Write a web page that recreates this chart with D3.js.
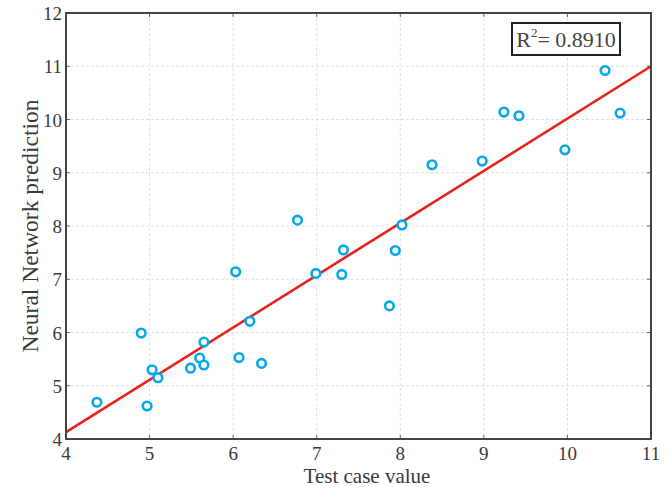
<!DOCTYPE html>
<html>
<head>
<meta charset="utf-8" />
<script src="https://cdn.jsdelivr.net/npm/d3@7"></script>
<style>
  body { margin: 0; background: #fff; }
  svg { display: block; font-family: 'Liberation Serif', serif; }
  .grid line { stroke: #e0e0e0; stroke-dasharray: 3,2; stroke-width: 1; }
  .tick-label { fill: #3a3a3a; font-size: 19px; }
</style>
</head>
<body>
<svg id="chart"></svg>
<script>
// measured (x) vs predicted (y)
const testValues = [4.37, 4.97, 4.90, 5.03, 5.10, 5.49, 5.60, 5.65, 5.65, 6.07, 6.20, 6.34, 6.03, 6.77,
  6.99, 7.30, 7.32, 7.87, 7.94, 8.02, 8.38, 8.98, 9.24, 9.42, 9.97, 10.45, 10.63];
const predictions = [4.69, 4.62, 5.99, 5.30, 5.15, 5.33, 5.52, 5.39, 5.82, 5.53, 6.21, 5.42, 7.14, 8.11,
  7.11, 7.09, 7.55, 6.50, 7.54, 8.02, 9.15, 9.22, 10.14, 10.07, 9.43, 10.92, 10.12];
const fitX = [4, 11];
const fitY = [4.13, 11.0];
const xTicks = [4, 5, 6, 7, 8, 9, 10, 11];
const yTicks = [4, 5, 6, 7, 8, 9, 10, 11, 12];
const r2Text = '0.8910';

const width = 668, height = 487;
const m = { left: 66, right: 651, top: 13, bottom: 439 };

const svg = d3.select('#chart').attr('width', width).attr('height', height);

const x = d3.scaleLinear().domain([4, 11]).range([m.left, m.right]);
const y = d3.scaleLinear().domain([4, 12]).range([m.bottom, m.top]);

// grid
const grid = svg.append('g').attr('class', 'grid');
grid.selectAll('.gx').data(xTicks.slice(1, -1)).enter().append('line')
  .attr('x1', d => x(d)).attr('x2', d => x(d)).attr('y1', m.top).attr('y2', m.bottom);
grid.selectAll('.gy').data(yTicks.slice(1, -1)).enter().append('line')
  .attr('y1', d => y(d)).attr('y2', d => y(d)).attr('x1', m.left).attr('x2', m.right);

// inward ticks
const ticks = svg.append('g').attr('stroke', '#666').attr('stroke-width', 1);
xTicks.forEach(t => {
  ticks.append('line').attr('x1', x(t)).attr('x2', x(t)).attr('y1', m.bottom).attr('y2', m.bottom - 4);
  ticks.append('line').attr('x1', x(t)).attr('x2', x(t)).attr('y1', m.top).attr('y2', m.top + 4);
});
yTicks.forEach(t => {
  ticks.append('line').attr('y1', y(t)).attr('y2', y(t)).attr('x1', m.left).attr('x2', m.left + 4);
  ticks.append('line').attr('y1', y(t)).attr('y2', y(t)).attr('x1', m.right).attr('x2', m.right - 4);
});

// tick labels
svg.selectAll('.xl').data(xTicks).enter().append('text')
  .attr('class', 'tick-label')
  .attr('x', d => x(d)).attr('y', m.bottom + 21)
  .attr('text-anchor', 'middle').text(d => d);
svg.selectAll('.yl').data(yTicks).enter().append('text')
  .attr('class', 'tick-label')
  .attr('x', m.left - 4).attr('y', d => y(d) + 7)
  .attr('text-anchor', 'end').text(d => d);

// fit line
const line = d3.line().x(d => x(d[0])).y(d => y(d[1]));
svg.append('path')
  .datum(d3.zip(fitX, fitY))
  .attr('d', line)
  .attr('fill', 'none')
  .attr('stroke', '#e8221b')
  .attr('stroke-width', 2.6);

// points
svg.selectAll('.pt').data(d3.zip(testValues, predictions)).enter().append('circle')
  .attr('cx', d => x(d[0])).attr('cy', d => y(d[1]))
  .attr('r', 4.3)
  .attr('fill', '#fff')
  .attr('stroke', '#08a8e8')
  .attr('stroke-width', 2.6);

// frame
svg.append('rect')
  .attr('x', m.left).attr('y', m.top)
  .attr('width', m.right - m.left).attr('height', m.bottom - m.top)
  .attr('fill', 'none').attr('stroke', '#444').attr('stroke-width', 2);

// R^2 box
svg.append('rect')
  .attr('x', 512).attr('y', 23).attr('width', 108).attr('height', 32)
  .attr('fill', '#fff').attr('stroke', '#222').attr('stroke-width', 2);
const r2 = svg.append('text')
  .attr('x', 566).attr('y', 47)
  .attr('text-anchor', 'middle')
  .attr('fill', '#444').attr('font-size', 22);
r2.append('tspan').text('R');
r2.append('tspan').attr('font-size', 13).attr('dy', -10).text('2');
r2.append('tspan').attr('dy', 10).text('= ' + r2Text);

// axis titles
svg.append('text')
  .attr('x', 367).attr('y', 483)
  .attr('text-anchor', 'middle')
  .attr('fill', '#3a3a3a').attr('font-size', 21)
  .text('Test case value');
svg.append('text')
  .attr('transform', `translate(38, ${(m.top + m.bottom) / 2}) rotate(-90)`)
  .attr('text-anchor', 'middle')
  .attr('fill', '#3a3a3a').attr('font-size', 23.5)
  .text('Neural Network prediction');
</script>
</body>
</html>
